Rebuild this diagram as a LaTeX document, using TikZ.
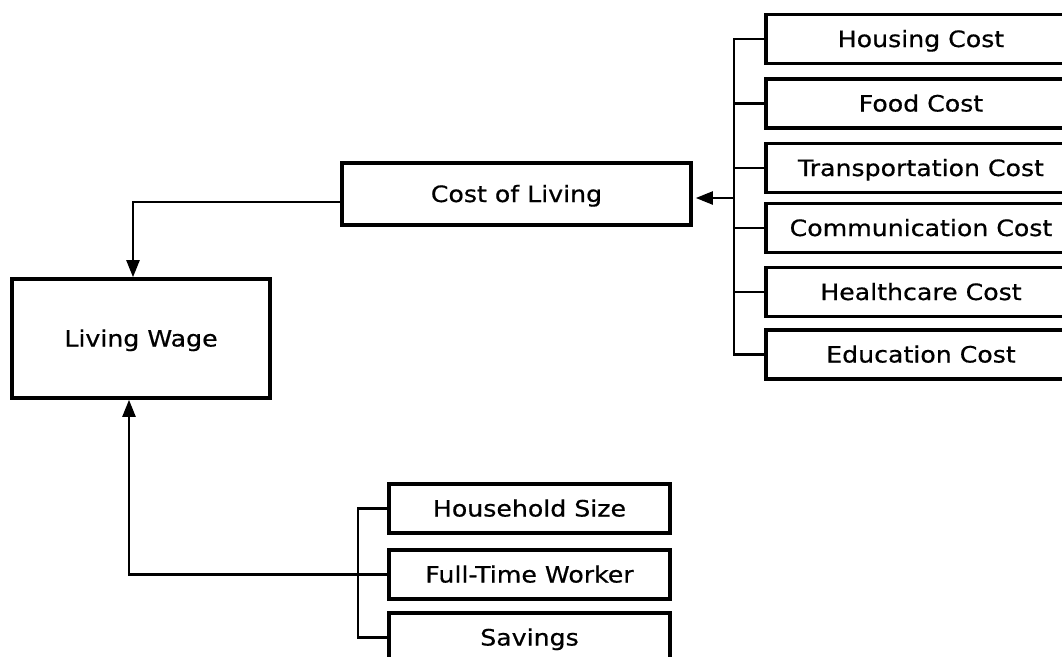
\documentclass[tikz,border=0pt]{standalone}
\usepackage{fontspec}
\setmainfont[FakeStretch=1.12,FakeBold=0.6]{DejaVu Sans}
\usetikzlibrary{arrows.meta}
\tikzset{
  box/.style={draw=black, line width=3.6pt, fill=white, inner sep=0pt, anchor=center,
    text height=16pt, text depth=0pt, font=\fontsize{22.5pt}{26pt}\selectfont},
  conn/.style={draw=black, line width=2.3pt},
  arr/.style={conn, -{Triangle[length=17pt,width=13pt]}},
  rbox/.style={box, minimum width=310pt, minimum height=49pt},
  bbox/.style={box, minimum width=281pt, minimum height=49pt}
}
\begin{document}
\begin{tikzpicture}[x=1pt, y=-1pt]
\useasboundingbox (0,0) rectangle (1062,656);
\clip (0,0) rectangle (1062,656);
\fill[white] (0,0) rectangle (1062,656);

% main boxes
\node[box, minimum width=349pt, minimum height=62pt] (col) at (516.5,194) {Cost of Living};
\node[box, minimum width=258pt, minimum height=119pt] (lw) at (141,338.5) {Living Wage};

% right-hand cost boxes
\node[rbox] (hous) at (921,39) {Housing Cost};
\node[rbox] (food) at (921,103.5) {Food Cost};
\node[rbox] (trans) at (921,168) {Transportation Cost};
\node[rbox] (comm) at (921,228) {Communication Cost};
\node[rbox] (health) at (921,292) {Healthcare Cost};
\node[rbox] (edu) at (921,354.5) {Education Cost};

% bottom boxes
\node[bbox] (hh) at (529.5,508.5) {Household Size};
\node[bbox] (ftw) at (529.5,574.5) {Full-Time Worker};
\node[bbox] (sav) at (529.5,637.5) {Savings};

% coordinates for buses and bends
\coordinate (busR) at (734,198);
\coordinate (busB) at (358,574.5);
\coordinate (bendA) at (133,202);
\coordinate (bendB) at (129,574.5);

% right bus
\draw[conn] (hous.west) -| (busR);
\draw[conn] (edu.west) -| (busR);
\draw[conn] (food.west) -- (food.west -| busR);
\draw[conn] (trans.west) -- (trans.west -| busR);
\draw[conn] (comm.west) -- (comm.west -| busR);
\draw[conn] (health.west) -- (health.west -| busR);
\draw[arr] (busR) -- ([xshift=3pt]col.east |- busR);

% cost of living to living wage
\draw[arr] (col.west |- bendA) -- (bendA) -- (bendA |- lw.north);

% bottom bus
\draw[conn] (hh.west) -| (busB);
\draw[conn] (sav.west) -| (busB);
\draw[conn] (ftw.west) -- (busB);
\draw[arr] (busB) -- (bendB) -- (bendB |- lw.south);
\end{tikzpicture}
\end{document}
